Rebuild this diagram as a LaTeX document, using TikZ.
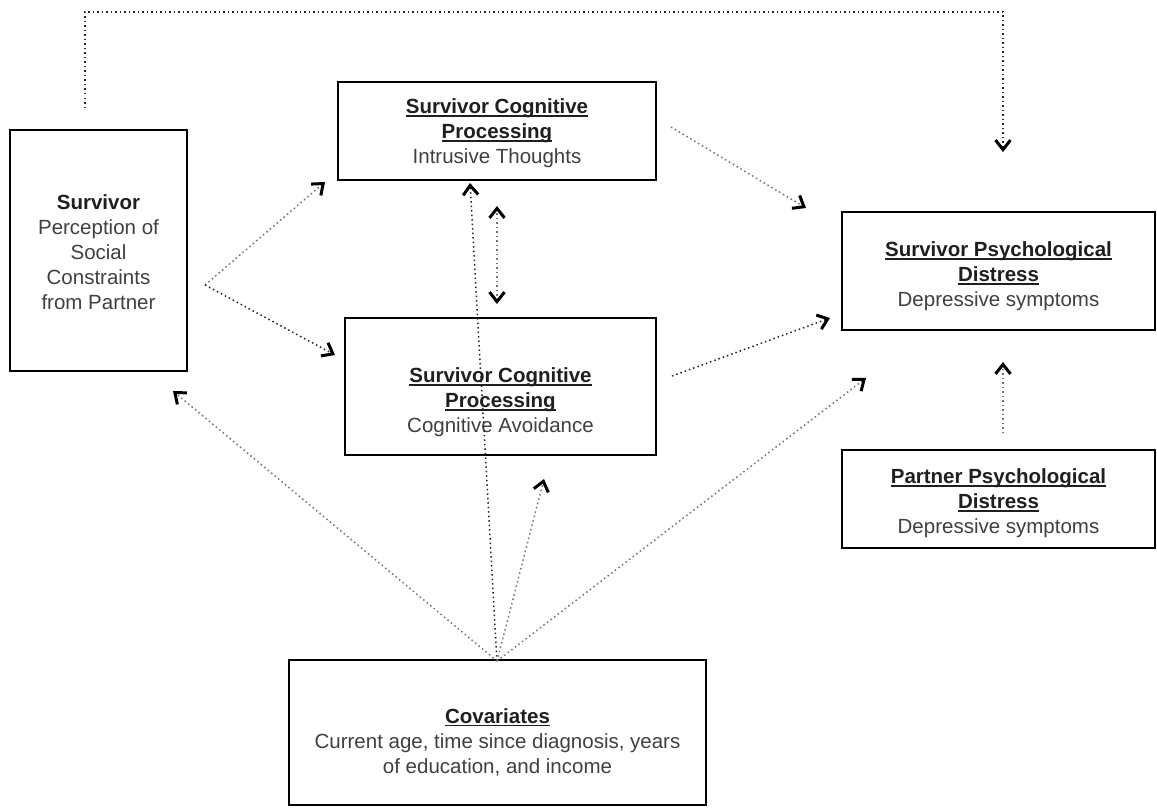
\documentclass[tikz,border=0pt]{standalone}
\usepackage{fontspec}
\setmainfont{Liberation Sans}
\usetikzlibrary{arrows.meta}
\newcommand\undl[1]{\setbox0\hbox{#1}\rlap{\rule[-3.2pt]{\wd0}{1.6pt}}\box0}
\tikzset{
  box/.style={draw=black, line width=2.5pt, fill=white, inner sep=0pt},
  txt/.style={align=center, inner sep=0pt, font=\fontsize{20.5}{25}\selectfont, text=black!75},
  >={Straight Barb[length=9.5pt,width=15pt,line width=3pt,color=black]},
  conn/.style={draw=black!55, line width=1.5pt, dash pattern=on 1.5pt off 3pt, ->},
  connd/.style={conn, draw=black!85},
}
\begin{document}
\begin{tikzpicture}[x=1pt,y=-1pt]
\useasboundingbox (0,0) rectangle (1157,808);
% boxes
\node[box, minimum width=177pt, minimum height=241pt] (surv) at (98.5,250.5) {};
\node[box, minimum width=318pt, minimum height=98pt] (intr) at (497,131) {};
\node[box, minimum width=311pt, minimum height=137pt] (avoid) at (500.5,386.5) {};
\node[box, minimum width=313pt, minimum height=118pt] (sdist) at (998.5,271) {};
\node[box, minimum width=313pt, minimum height=98pt] (pdist) at (998.5,499) {};
\node[box, minimum width=417pt, minimum height=145pt] (cov) at (497.5,732.5) {};
% texts
\node[txt] (survT) at (98.5,252) {{\bfseries\color{black!88}Survivor}\\Perception of\\Social\\Constraints\\from Partner};
\node[txt] (intrT) at (497,133) {{\bfseries\color{black!88}\undl{Survivor Cognitive}}\\{\bfseries\color{black!88}\undl{Processing}}\\Intrusive Thoughts};
\node[txt] (avoidT) at (500.5,402) {{\bfseries\color{black!88}\undl{Survivor Cognitive}}\\{\bfseries\color{black!88}\undl{Processing}}\\Cognitive Avoidance};
\node[txt] (sdistT) at (998.5,276) {{\bfseries\color{black!88}\undl{Survivor Psychological}}\\{\bfseries\color{black!88}\undl{Distress}}\\Depressive symptoms};
\node[txt] (pdistT) at (998.5,503) {{\bfseries\color{black!88}\undl{Partner Psychological}}\\{\bfseries\color{black!88}\undl{Distress}}\\Depressive symptoms};
\node[txt] (covT) at (497.5,742) {{\bfseries\color{black!88}\undl{Covariates}}\\Current age, time since diagnosis, years\\of education, and income};
% connector end points
\coordinate (sfork) at (205,285);
\coordinate (toIntrL) at (325,182);
\coordinate (toAvoidL) at (335,355);
\coordinate (fromIntrR) at (671,127);
\coordinate (toDistA) at (806,208);
\coordinate (fromAvoidR) at (672,376);
\coordinate (toDistB) at (830,318);
\coordinate (covTop) at (497,661);
\coordinate (toDistC) at (866,378);
\coordinate (toSurv) at (173,391);
\coordinate (toIntrB) at (470,183);
\coordinate (toAvoidB) at (544,479);
\coordinate (bidiTop) at (497,206);
\coordinate (bidiBot) at (497,304);
\coordinate (fromPart) at (1003,433);
\coordinate (toDistD) at (1003,362);
\coordinate (fbStart) at (85,108);
\coordinate (fbEnd) at (1003,152);
% connectors
\draw[conn] (sfork) -- (toIntrL);
\draw[connd] (sfork) -- (toAvoidL);
\draw[conn] (fromIntrR) -- (toDistA);
\draw[connd] (fromAvoidR) -- (toDistB);
\draw[conn] (covTop) -- (toDistC);
\draw[conn] (covTop) -- (toSurv);
\draw[connd] (covTop) -- (toIntrB);
\draw[conn] (covTop) -- (toAvoidB);
\draw[conn, <->] (bidiBot) -- (bidiTop);
\draw[conn] (fromPart) -- (toDistD);
\draw[connd] (fbStart) -- (85,12) -- (1003,12) -- (fbEnd);
\end{tikzpicture}
\end{document}
